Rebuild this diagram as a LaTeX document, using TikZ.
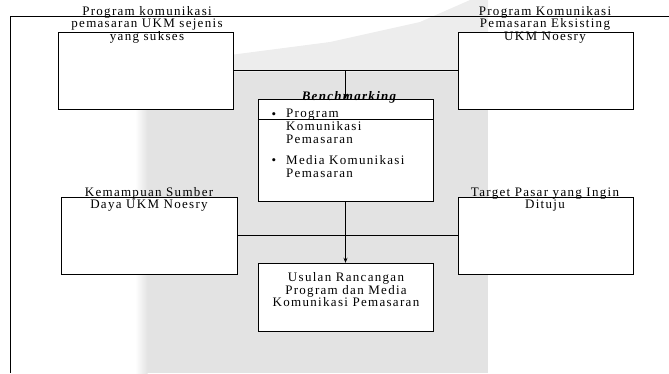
\documentclass[tikz,border=0pt]{standalone}
\usepackage{fontspec}
\setmainfont{Liberation Serif}[LetterSpace=10]
\usetikzlibrary{arrows.meta}
\definecolor{wm}{HTML}{E3E3E3}
\definecolor{wmlight}{HTML}{EDEDED}
\begin{document}
\begin{tikzpicture}[x=1pt,y=-1pt,
  box/.style={draw=black,fill=white,line width=0.8pt},
  lbl/.style={align=center,font=\fontsize{13}{12.5}\selectfont,inner sep=0pt},
  txt/.style={align=left,font=\fontsize{13}{13}\selectfont,inner sep=0pt},
  conn/.style={line width=0.8pt},
  arr/.style={line width=0.8pt,-{Stealth[length=5pt,width=4pt]}}]
\useasboundingbox (0,0) rectangle (669,373);
% watermark background
\fill[wmlight] (147,75) -- (147,62) -- (230,55) -- (330,42) -- (420,22) -- (470,0) -- (488,0) -- (488,75) -- cycle;
\fill[wm] (147,72) rectangle (488,373);
\shade[left color=white,right color=wm] (135,72) rectangle (147.5,373);
% outer frame
\draw[line width=0.8pt] (669,16) -- (10,16) -- (10,373);
% boxes
\draw[box] (58,32) rectangle (233,109);
\node[inner sep=0pt,minimum width=175pt,minimum height=77pt] (b1) at (145.5,70.5) {};
\draw[box] (458,32) rectangle (633,109);
\node[inner sep=0pt,minimum width=175pt,minimum height=77pt] (b2) at (545.5,70.5) {};
\draw[box] (258,99) rectangle (433,201);
\node[inner sep=0pt,minimum width=175pt,minimum height=102pt] (bench) at (345.5,150) {};
\draw[line width=0.8pt] (bench.west |- 0,119) -- (bench.east |- 0,119);
\draw[box] (61,197) rectangle (237,274);
\node[inner sep=0pt,minimum width=176pt,minimum height=77pt] (b3) at (149,235.5) {};
\draw[box] (458,197) rectangle (633,274);
\node[inner sep=0pt,minimum width=175pt,minimum height=77pt] (b4) at (545.5,235.5) {};
\draw[box] (258,263) rectangle (433,331);
\node[inner sep=0pt,minimum width=175pt,minimum height=68pt] (us) at (345.5,297) {};
% connectors
\draw[conn] (b1.east) -- (b2.west);
\coordinate (j1) at (bench.north |- b1.east);
\draw[arr] (j1) -- (bench.north);
\draw[conn] (b3.east) -- (b4.west);
\draw[arr] (bench.south) -- (us.north);
% labels
\node[lbl] (t1) at (147,24.5) {Program komunikasi\\pemasaran UKM sejenis\\yang sukses};
\node[lbl] (t2) at (545,24.5) {Program Komunikasi\\Pemasaran Eksisting\\UKM Noesry};
\node[lbl] (t3) at (149,199.5) {Kemampuan Sumber\\Daya UKM Noesry};
\node[lbl] (t4) at (545,199.5) {Target Pasar yang Ingin\\Dituju};
\node[lbl,font=\fontsize{13}{12}\selectfont\bfseries\itshape] (tb) at (349,97) {Benchmarking};
\node[lbl,font=\fontsize{13}{12.5}\selectfont] (tu) at (346,290) {Usulan Rancangan\\Program dan Media\\Komunikasi Pemasaran};
\node[txt] (k1) at (274,115.5) {\textbullet};
\node[txt,anchor=north west] (k2) at (286,109) {Program\\Komunikasi\\Pemasaran};
\node[txt] (k3) at (274,161.5) {\textbullet};
\node[txt,anchor=north west] (k4) at (286,155) {Media Komunikasi\\Pemasaran};
\end{tikzpicture}
\end{document}
